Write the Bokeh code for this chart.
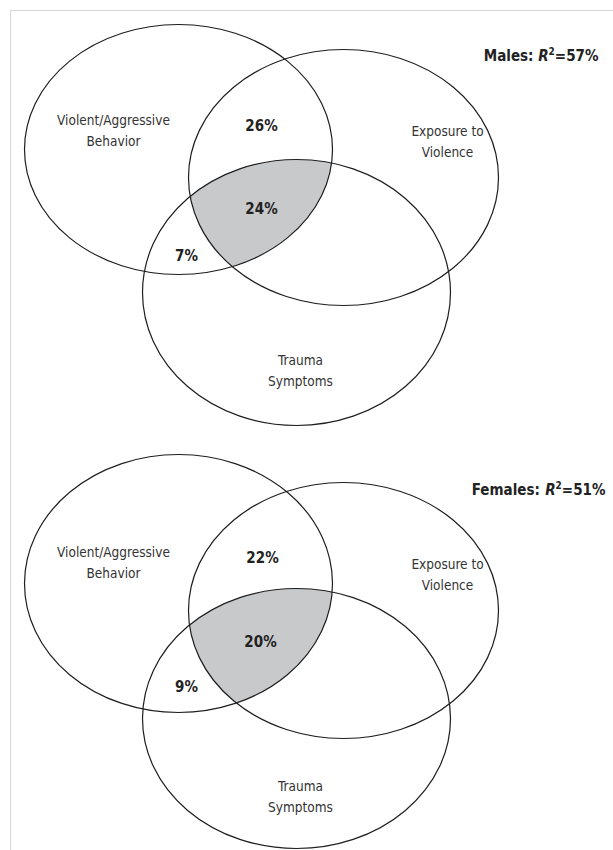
import numpy as np
from bokeh.plotting import figure
from bokeh.models import Range1d, BoxAnnotation, ColumnDataSource
from bokeh.core.properties import value
from bokeh.embed import file_html
from bokeh.resources import INLINE

# ---------------- data ----------------
set_names = ["Violent/Aggressive\nBehavior", "Exposure to\nViolence", "Trauma\nSymptoms"]
groups = ["Males", "Females"]
r2_values = [57, 51]
pair_ab = ["26%", "22%"]      # violent & exposure only
triple_abc = ["24%", "20%"]   # shared by all three
pair_ac = ["7%", "9%"]        # violent & trauma only

# ---------------- layout ----------------
W, H = 613, 850
FONT = "DejaVu Sans Condensed, Roboto, sans-serif"
FS_NAME = 13.5
FS_PCT = 15
FS_R2 = 15
LINE = "#1e1e1e"
TXT = "#333333"
SHADE = "#c8c9cb"

# ellipse geometry (page pixels) for each panel: cx, cy, rx, ry
PANELS = [
    [(178, 149, 154, 125), (343, 177, 155, 128), (296, 292, 154, 133)],
    [(178, 583, 154, 129), (343, 610, 155, 128), (296, 718, 154, 130)],
]
NAME_POS = [
    [(113, 130), (447, 141), (300, 370)],
    [(113, 562), (447, 574), (300, 796)],
]
PCT_POS = [
    [(261, 125), (261, 208), (186, 255)],
    [(262, 557), (260, 641), (186, 686)],
]
R2_RIGHT = [598, 605]
R2_Y = [55, 489]

# approximate bold advance widths (em) for the R^2 label pieces
EM = {"M": .995, "a": .675, "l": .343, "e": .678, "s": .595, ":": .4, " ": .348,
      "F": .683, "m": 1.042, "R": .77, "2": .696, "=": .838, "5": .696, "7": .696,
      "1": .696, "%": 1.002}


def em_width(s):
    return 0.9 * sum(EM.get(c, .65) for c in s)


p = figure(width=W, height=H, output_backend="svg", toolbar_location=None,
           x_range=Range1d(0, W), y_range=Range1d(H, 0),
           min_border=0, outline_line_color=None)
p.axis.visible = False
p.grid.visible = False
p.background_fill_color = "white"

# page frame: only its left and top edges fall inside the picture
p.add_layout(BoxAnnotation(left=10, top=10, right=W + 20, bottom=H + 20,
                           fill_alpha=0, line_color="#7a7a7a", line_width=1))


def inside(e, x, y):
    cx, cy, rx, ry = e
    return ((x - cx) / rx) ** 2 + ((y - cy) / ry) ** 2 <= 1 + 1e-9


def runs(x_right, y, parts):
    # parts: (text, size, style, dy)
    total = sum(s * em_width(t) for t, s, _, _ in parts)
    x = x_right - total
    for t, s, st, dy in parts:
        p.text(x=[x], y=[y + dy], text=[t], text_font=value(FONT),
               text_font_size=f"{s}px", text_font_style=st, text_color="#222222",
               text_align="left", text_baseline="middle")
        x += s * em_width(t)


for gi, g in enumerate(groups):
    ells = PANELS[gi]

    # shaded triple intersection
    t = np.linspace(0, 2 * np.pi, 1441)
    xs, ys = [], []
    for i, e in enumerate(ells):
        cx, cy, rx, ry = e
        x = cx + rx * np.cos(t)
        y = cy + ry * np.sin(t)
        m = np.ones_like(x, dtype=bool)
        for j, o in enumerate(ells):
            if j != i:
                m &= inside(o, x, y)
        xs.append(x[m]); ys.append(y[m])
    xs = np.concatenate(xs); ys = np.concatenate(ys)
    mx, my = xs.mean(), ys.mean()
    order = np.argsort(np.arctan2(ys - my, xs - mx))
    p.patch(xs[order], ys[order], fill_color=SHADE, line_color=None)

    src = ColumnDataSource(dict(x=[e[0] for e in ells], y=[e[1] for e in ells],
                                w=[2 * e[2] for e in ells], h=[2 * e[3] for e in ells]))
    p.ellipse(x="x", y="y", width="w", height="h", source=src,
              fill_color=None, line_color=LINE, line_width=1.2)

    p.text(x=[q[0] for q in NAME_POS[gi]], y=[q[1] for q in NAME_POS[gi]], text=set_names,
           text_font=value(FONT), text_font_size=f"{FS_NAME}px", text_color=TXT,
           text_align="center", text_baseline="middle", text_line_height=1.3)

    p.text(x=[q[0] for q in PCT_POS[gi]], y=[q[1] for q in PCT_POS[gi]],
           text=[pair_ab[gi], triple_abc[gi], pair_ac[gi]],
           text_font=value(FONT), text_font_size=f"{FS_PCT}px", text_font_style="bold",
           text_color="#222222", text_align="center", text_baseline="middle")

    runs(R2_RIGHT[gi], R2_Y[gi], [
        (f"{g}: ", FS_R2, "bold", 0),
        ("R", FS_R2, "bold italic", 0),
        ("2", 10, "bold", -5),
        (f"={r2_values[gi]}%", FS_R2, "bold", 0),
    ])

open("out.html", "w").write(file_html(p, INLINE))
